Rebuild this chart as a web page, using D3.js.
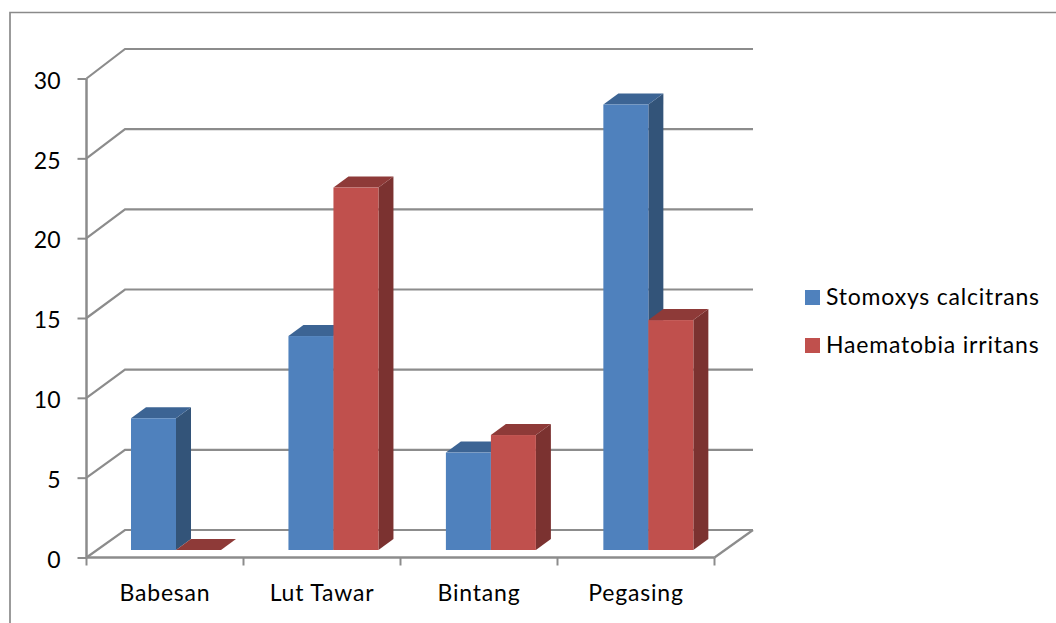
<!DOCTYPE html>
<html>
<head>
<meta charset="utf-8">
<script src="https://cdn.jsdelivr.net/npm/d3@7"></script>
<style>
html,body{margin:0;padding:0;background:#fff}
svg{display:block}
text{font-family:Lato,"Open Sans",sans-serif;fill:#000}
</style>
</head>
<body>
<svg id="chart" width="1056" height="623"></svg>
<script>
const categories = ["Babesan", "Lut Tawar", "Bintang", "Pegasing"];
const seriesNames = ["Stomoxys calcitrans", "Haematobia irritans"];
const stomoxys = [8.25, 13.4, 6.1, 27.9];
const haematobia = [0, 22.7, 7.2, 14.4];
const yTicks = [0, 5, 10, 15, 20, 25, 30];
const faceColors = ["#4f81bd", "#c0504d"];
const topColors = ["#3c6494", "#8e3a38"];
const sideColors = ["#335479", "#7b3230"];

const svg = d3.select("#chart");
const grey = "#8c8c8c";
const labelSize = 23;
const labelSpacing = 0.8;

// Front plane of the box, and the back wall with its own vertical scale
const x = d3.scaleBand().domain(categories).range([86.5, 714.5]);
const y = d3.scaleLinear().domain([0, 30]).range([557.5, 78.5]);
const yBack = d3.scaleLinear().domain([0, 30]).range([530, 49]);
const wallDx = 38.5;

// Columns stand on a plane set back inside the box, on their own slightly wider band
const xBars = d3.scaleBand().domain(categories).range([131, 760.8]);
const bar = { dx: 15, dy: -11, inY: -7.5 };
const inner = d3.scaleBand().domain(seriesNames).range([0, 90]);

// Outer frame, open on the right and bottom edges
svg.append("path")
  .attr("d", d3.line()([[10, 623], [10, 12.5], [1056, 12.5]]))
  .attr("fill", "none").attr("stroke", "#8a8a8a").attr("stroke-width", 1.7);

const gridG = svg.append("g").attr("fill", "none").attr("stroke", grey);
yTicks.forEach(t => {
  const p = [[x.range()[0], y(t)], [x.range()[0] + wallDx, yBack(t)], [x.range()[1] + wallDx, yBack(t)]];
  gridG.append("path").attr("d", d3.line()(p)).attr("stroke-width", 2.2);
});
// Right edge of the floor
gridG.append("path")
  .attr("d", d3.line()([[x.range()[1], y(0)], [x.range()[1] + wallDx, yBack(0)]]))
  .attr("stroke-width", 2.2);

// Value axis
const yAxis = svg.append("g")
  .attr("transform", `translate(${x.range()[0]},0)`)
  .call(d3.axisLeft(y).tickValues(yTicks).tickSize(9).tickPadding(17).tickFormat(d3.format("d")));
yAxis.selectAll("line").attr("stroke", grey).attr("stroke-width", 2);
yAxis.select(".domain").attr("stroke", grey).attr("stroke-width", 2.5).attr("d", `M0,${y(30)}V${y(0)}`);
yAxis.selectAll("text")
  .attr("font-size", labelSize)
  .attr("font-family", 'Lato,"Open Sans",sans-serif')
  .attr("dy", "0.42em");

// Category axis
const xAxis = svg.append("g")
  .attr("transform", `translate(0,${y(0)})`);
xAxis.append("path").attr("d", `M${x.range()[0]},0H${x.range()[1]}`).attr("stroke", grey).attr("stroke-width", 2.5);
[...categories.map(c => x(c)), x.range()[1]].forEach(px => {
  xAxis.append("line").attr("x1", px).attr("x2", px).attr("y1", 0).attr("y2", 8).attr("stroke", grey).attr("stroke-width", 2);
});
xAxis.selectAll("text.cat").data(categories).join("text")
  .attr("class", "cat")
  .attr("x", c => x(c) + x.bandwidth() / 2)
  .attr("y", 43)
  .attr("text-anchor", "middle")
  .attr("font-size", labelSize)
  .attr("letter-spacing", labelSpacing)
  .text(c => c);

// Columns: one box per value, drawn series by series, front to side to top
const seriesValues = [stomoxys, haematobia];
const boxes = [];
categories.forEach((c, ci) => seriesValues.forEach((vals, si) => boxes.push({ c, si, v: vals[ci] })));
const line = d3.line();
const marks = svg.append("g");
boxes.forEach(b => {
  const x0 = xBars(b.c) + inner(seriesNames[b.si]);
  const w = inner.bandwidth();
  const y0 = y(0) + bar.inY;
  const y1 = y(b.v) + bar.inY;
  const g = marks.append("g");
  g.append("path").attr("fill", sideColors[b.si])
    .attr("d", line([[x0 + w, y1], [x0 + w + bar.dx, y1 + bar.dy], [x0 + w + bar.dx, y0 + bar.dy], [x0 + w, y0]]) + "Z");
  g.append("path").attr("fill", topColors[b.si])
    .attr("d", line([[x0, y1], [x0 + bar.dx, y1 + bar.dy], [x0 + w + bar.dx, y1 + bar.dy], [x0 + w, y1]]) + "Z");
  g.append("rect").attr("x", x0).attr("y", y1).attr("width", w).attr("height", y0 - y1).attr("fill", faceColors[b.si]);
});

// Legend
const legend = svg.append("g");
seriesNames.forEach((name, i) => {
  const ly = 297 + i * 48;
  legend.append("rect").attr("x", 805).attr("y", ly - 7).attr("width", 15).attr("height", 15).attr("fill", faceColors[i]);
  legend.append("text").attr("x", 826).attr("y", ly + 8).attr("font-size", labelSize).attr("letter-spacing", labelSpacing).text(name);
});
</script>
</body>
</html>
